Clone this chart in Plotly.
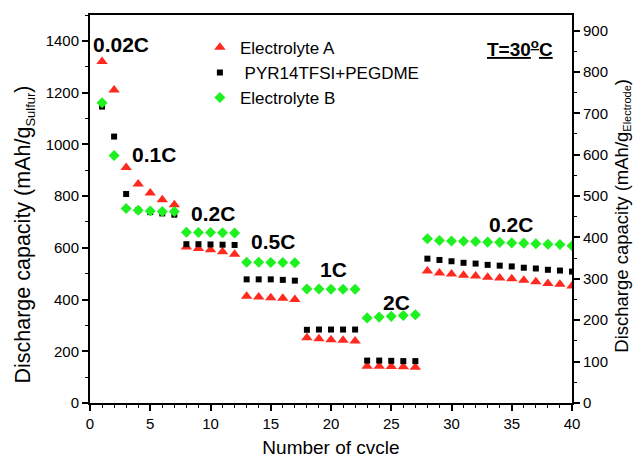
import plotly.graph_objects as go

cycles = list(range(1, 41))

electrolyte_a = [1320, 1210, 910, 847, 812, 786, 766,
                 603, 597, 592, 585, 575,
                 413, 410, 407, 405, 400,
                 252, 248, 245, 243, 240,
                 142, 142, 141, 140, 138,
                 510, 503, 499, 494, 491, 486, 483, 480, 475, 469, 462, 459, 452]

pyr_pegdme = [1146, 1030, 808, 745, 738, 733, 728,
              614, 614, 613, 612, 611,
              478, 478, 478, 476, 473,
              283, 284, 284, 284, 284,
              164, 164, 163, 162, 162,
              558, 553, 548, 542, 539, 534, 531, 528, 523, 520, 515, 512, 508]

electrolyte_b = [1161, 957, 752, 745, 742, 740, 740,
                 660, 659, 659, 658, 657,
                 544, 544, 543, 543, 542,
                 441, 441, 440, 440, 440,
                 329, 332, 335, 338, 341,
                 635, 628, 626, 625, 624, 622, 621, 619, 618, 616, 614, 613, 608]

rate_labels = ["0.02C", "0.1C", "0.2C", "0.5C", "1C", "2C", "0.2C"]
rate_label_x = [2.6, 5.3, 10.2, 15.2, 20.2, 25.4, 34.9]
rate_label_y = [1385, 962, 732, 624, 515, 388, 690]

names = ["Electrolyte A", "\u00a0PYR14TFSI+PEGDME", "Electrolyte B"]
colors = ["#ff2a1f", "#000000", "#1ff01f"]
symbols = ["triangle-up", "square", "diamond"]
sizes = [10, 6, 8.5]

FONT = "Arial, Liberation Sans, sans-serif"

fig = go.Figure()
for i, ys in enumerate([electrolyte_a, pyr_pegdme, electrolyte_b]):
    fig.add_trace(go.Scatter(
        x=cycles, y=ys, mode="markers", name=names[i],
        legendgroup=str(i),
        marker=dict(symbol=symbols[i], color=colors[i], size=sizes[i], line=dict(width=0)),
    ))

# secondary axis anchor trace (empty)
fig.add_trace(go.Scatter(x=[], y=[], yaxis="y2", showlegend=False, hoverinfo="skip"))

for t, xx, yy in zip(rate_labels, rate_label_x, rate_label_y):
    fig.add_annotation(x=xx, y=yy, xref="x", yref="y", text="<b>" + t + "</b>",
                       showarrow=False, font=dict(family=FONT, size=21, color="black"))

fig.add_annotation(x=0.82, y=0.95, xref="paper", yref="paper", xanchor="left",
                   text="<b>T=30<sup>o</sup>C</b>", showarrow=False,
                   font=dict(family=FONT, size=19, color="black", lineposition="under"))

# axis titles
fig.add_annotation(x=-0.135, y=0.434, xref="paper", yref="paper", textangle=-90,
                   xanchor="center", yanchor="middle", showarrow=False,
                   text="Discharge capacity (mAh/g<sub><span style='font-size:13px'>Sulfur</span></sub>)",
                   font=dict(family=FONT, size=21.5, color="black"))
fig.add_annotation(x=1.104, y=0.483, xref="paper", yref="paper", textangle=-90,
                   xanchor="center", yanchor="middle", showarrow=False,
                   text="Discharge capacity (mAh/g<sub><span style='font-size:11px'>Electrode</span></sub>)",
                   font=dict(family=FONT, size=18.5, color="black"))

fig.update_layout(
    width=638, height=459,
    margin=dict(l=90, r=66, t=15, b=56),
    paper_bgcolor="white", plot_bgcolor="white",
    font=dict(family=FONT, color="black", size=15),
    showlegend=True,
    legend=dict(x=0.228, y=0.962, xanchor="left", yanchor="top",
                font=dict(family=FONT, size=17, color="black"),
                bgcolor="rgba(0,0,0,0)", tracegroupgap=0, itemwidth=30),
    xaxis=dict(range=[0, 40], dtick=5, tick0=0, showline=True, linecolor="black",
               linewidth=2, mirror=True, ticks="outside", ticklen=6, tickwidth=1.5,
               tickcolor="black", showgrid=False, zeroline=False, automargin=False,
               minor=dict(dtick=1, ticks="outside", ticklen=3, tickwidth=1.2, tickcolor="black"),
               title=dict(text="Number of cvcle", font=dict(size=19), standoff=10),
               tickfont=dict(size=15)),
    yaxis=dict(range=[0, 1500], dtick=200, tick0=0, showline=True, linecolor="black",
               linewidth=2, ticks="outside", ticklen=6, tickwidth=1.5, tickcolor="black",
               showgrid=False, zeroline=False, automargin=False,
               minor=dict(dtick=100, ticks="outside", ticklen=3, tickwidth=1.2, tickcolor="black"),
               tickfont=dict(size=15)),
    yaxis2=dict(range=[0, 937.5], dtick=100, tick0=0, overlaying="y", side="right",
                showline=True, linecolor="black", linewidth=2, ticks="outside", ticklen=6,
                tickwidth=1.5, tickcolor="black", showgrid=False, zeroline=False, automargin=False,
                minor=dict(dtick=50, ticks="outside", ticklen=3, tickwidth=1.2, tickcolor="black"),
                tickfont=dict(size=15)),
)

fig.write_html("out.html", config={"displayModeBar": False},
               post_script="document.body.style.margin='0';")
